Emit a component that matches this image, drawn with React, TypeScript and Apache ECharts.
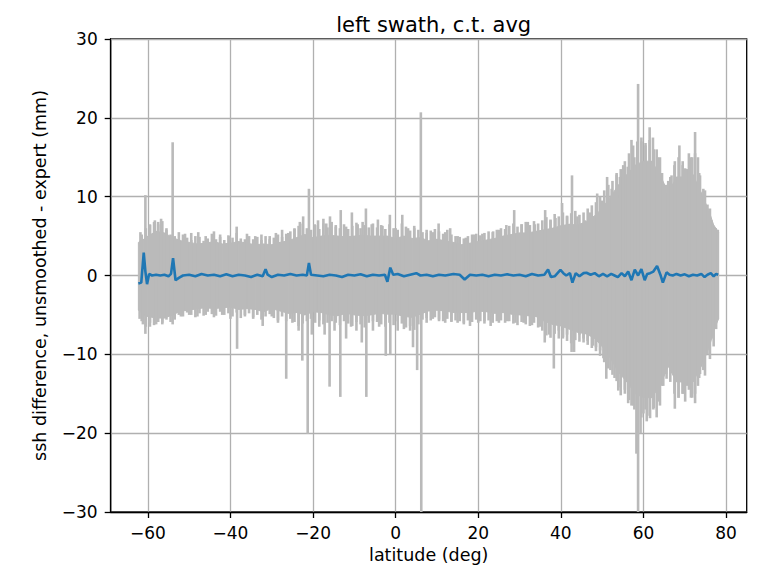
import { useEffect, useRef } from "react";
import * as echarts from "echarts";

// ---- data ----
const titleText = "left swath, c.t. avg";
const xName = "latitude (deg)";
const yName = "ssh difference, unsmoothed - expert (mm)";
const xTicks = [-60, -40, -20, 0, 20, 40, 60, 80];

// solid part of the grey (per-sample) band
const envLat = [
  -62.3, -61, -60, -58, -56, -54, -52, -50, -48, -46,
  -44, -42, -40, -38, -36, -34, -32, -30, -28, -26,
  -24, -22, -20, -18, -16, -14, -12, -10, -8, -6,
  -4, -2, 0, 2, 4, 6, 8, 10, 12, 14,
  16, 18, 20, 22, 24, 26, 28, 30, 32, 34,
  36, 38, 40, 42, 44, 46, 48, 50, 52, 54,
  56, 58, 60, 62, 64, 66, 68, 70, 72, 74,
  76, 77, 78.2,
];
const envHi = [
  4.2, 4.6, 5.0, 5.6, 5.4, 4.8, 4.4, 4.2, 4.0, 4.1,
  4.3, 4.0, 4.1, 4.3, 4.1, 3.9, 4.0, 3.9, 4.2, 4.4,
  4.8, 5.2, 4.8, 5.0, 5.1, 5.0, 4.9, 5.0, 5.1, 5.0,
  5.0, 5.0, 4.7, 5.0, 4.7, 4.8, 4.4, 4.6, 4.4, 4.2,
  3.9, 4.1, 4.3, 4.5, 4.7, 5.0, 5.2, 5.4, 5.4, 5.6,
  5.8, 6.0, 6.3, 6.5, 6.4, 6.8, 7.5, 8.5, 10.0, 11.5,
  12.8, 14.0, 14.5, 14.5, 12.8, 10.5, 12.5, 12.5, 12.8, 10.5,
  8.0, 6.4, 5.5,
];
const envLo = [
  -4.4, -5.0, -5.2, -5.4, -5.4, -5.0, -4.5, -4.4, -4.2, -4.1,
  -4.2, -4.1, -4.0, -4.3, -4.2, -4.3, -4.6, -4.2, -4.5, -4.8,
  -4.7, -5.0, -4.6, -4.7, -5.0, -5.1, -4.8, -5.0, -5.1, -5.0,
  -4.8, -4.9, -4.9, -5.2, -5.3, -4.9, -4.5, -4.4, -4.5, -4.7,
  -4.7, -4.7, -4.5, -4.6, -4.8, -4.7, -4.9, -5.0, -5.1, -5.2,
  -5.8, -6.2, -6.4, -6.8, -7.2, -7.4, -7.9, -9.0, -10.5, -12.3,
  -13.5, -15.0, -15.5, -15.5, -14.0, -11.5, -13.5, -13.5, -13.5, -11.5,
  -9.0, -7.0, -5.5,
];

// noisy fringe of the grey band (one stroke per degree, lo..hi)
const fringeLat = [
  -61.5, -60.5, -59.5, -58.5, -57.5, -56.5, -55.5,
  -54.5, -53.5, -52.5, -51.5, -50.5, -49.5, -48.5, -47.5, -46.5, -45.5,
  -44.5, -43.5, -42.5, -41.5, -40.5, -39.5, -38.5, -37.5, -36.5, -35.5,
  -34.5, -33.5, -32.5, -31.5, -30.5, -29.5, -28.5, -27.5, -26.5, -25.5,
  -24.5, -23.5, -22.5, -21.5, -20.5, -19.5, -18.5, -17.5, -16.5, -15.5,
  -14.5, -13.5, -12.5, -11.5, -10.5, -9.5, -8.5, -7.5, -6.5, -5.5,
  -4.5, -3.5, -2.5, -1.5, -0.5, 0.5, 1.5, 2.5, 3.5, 4.5,
  5.5, 6.5, 7.5, 8.5, 9.5, 10.5, 11.5, 12.5, 13.5, 14.5,
  15.5, 16.5, 17.5, 18.5, 19.5, 20.5, 21.5, 22.5, 23.5, 24.5,
  25.5, 26.5, 27.5, 28.5, 29.5, 30.5, 31.5, 32.5, 33.5, 34.5,
  35.5, 36.5, 37.5, 38.5, 39.5, 40.5, 41.5, 42.5, 43.5, 44.5,
  45.5, 46.5, 47.5, 48.5, 49.5, 50.5, 51.5, 52.5, 53.5, 54.5,
  55.5, 56.5, 57.5, 58.5, 59.5, 60.5, 61.5, 62.5, 63.5, 64.5,
  65.5, 66.5, 67.5, 68.5, 69.5, 70.5, 71.5, 72.5, 73.5, 74.5,
  75.5, 76.5, 77.5,
];
const fringeHi = [
  5.2, 6.0, 6.4, 6.8, 6.5, 6.9, 5.8,
  5.2, 5.0, 4.6, 5.2, 4.8, 4.5, 5.0, 4.9, 4.4, 4.7,
  5.3, 4.6, 4.9, 4.5, 5.1, 4.8, 5.4, 4.7, 4.6, 5.0,
  4.6, 4.9, 4.5, 5.0, 4.6, 4.8, 5.2, 4.9, 5.3, 5.6,
  5.9, 6.3, 6.6, 6.0, 5.8, 6.4, 5.9, 6.6, 6.1, 6.8,
  6.2, 6.0, 6.5, 5.9, 6.3, 6.7, 6.0, 6.4, 6.1, 6.6,
  6.1, 6.4, 5.9, 6.5, 6.0, 5.8, 6.6, 6.2, 5.7, 6.0,
  5.8, 5.5, 5.4, 5.7, 5.9, 5.6, 5.3, 5.8, 5.2, 5.0,
  4.9, 4.7, 5.0, 5.2, 5.3, 5.1, 5.4, 5.6, 5.5, 5.8,
  6.0, 5.9, 6.3, 6.6, 6.2, 6.5, 6.8, 6.4, 6.9, 6.6,
  7.0, 7.4, 7.1, 7.8, 7.5, 8.0, 7.6, 7.9, 8.2, 7.7,
  8.0, 8.5, 8.9, 9.3, 10.0, 10.8, 11.5, 12.0, 12.8, 13.5,
  14.5, 15.5, 16.5, 17.0, 17.5, 16.8, 17.2, 16.0, 15.0, 13.0,
  11.5, 12.5, 14.0, 15.0, 14.0, 13.5, 15.0, 15.5, 13.0, 11.0,
  9.0, 7.0, 6.0,
];
const fringeLo = [
  -5.8, -6.5, -6.0, -6.3, -5.9, -6.2, -5.6,
  -5.9, -5.6, -5.0, -5.2, -4.7, -5.0, -5.3, -4.8, -5.1, -4.6,
  -4.9, -5.1, -4.6, -5.0, -4.8, -5.2, -4.7, -5.4, -5.0, -4.8,
  -5.3, -5.0, -5.6, -5.2, -4.9, -5.4, -5.7, -5.2, -5.8, -5.5,
  -5.9, -6.4, -6.1, -5.8, -5.5, -6.0, -5.7, -6.2, -6.0, -5.8,
  -6.0, -6.3, -5.8, -6.1, -6.4, -5.9, -6.2, -6.6, -6.0, -5.8,
  -5.9, -6.2, -6.5, -6.0, -6.3, -5.8, -6.1, -6.6, -6.4, -6.9,
  -6.2, -5.6, -5.4, -5.7, -5.3, -5.6, -5.8, -5.5, -5.9, -5.7,
  -5.8, -6.0, -5.7, -5.9, -5.6, -5.8, -6.1, -5.7, -6.0, -5.8,
  -5.7, -6.0, -5.8, -6.1, -6.3, -5.9, -6.2, -6.4, -6.0, -6.6,
  -7.0, -7.6, -7.9, -7.4, -8.0, -7.8, -8.3, -8.6, -8.2, -8.4,
  -8.5, -8.8, -9.2, -9.6, -10.2, -11.0, -11.8, -12.6, -13.4, -14.2,
  -15.0, -15.8, -16.5, -17.5, -18.0, -17.0, -17.8, -16.8, -16.0, -14.0,
  -12.5, -13.5, -15.0, -15.5, -15.0, -14.0, -15.5, -15.0, -13.0, -12.0,
  -10.0, -8.0, -6.5,
];

// isolated excursions of the grey line (drawn from 0 to the value)
const spikeLat = [
  // upward
  -61.8, -60.6, -59.5, -58.3, -57.5, -56.8, -55.5, -54.0, -52.5, -51.0,
  -49.5, -47.8, -46.0, -44.0, -42.5, -40.2, -38.5, -36.0, -34.0, -32.5,
  -30.5, -29.0, -27.5, -26.0, -24.5, -23.2, -22.4, -21.0, -19.6, -18.8,
  -17.5, -16.8, -15.9, -14.5, -13.3, -12.0, -10.6, -9.2, -8.0, -7.2,
  -5.8, -4.3, -3.2, -1.4, 0.0, 1.6, 3.0, 4.5, 6.1, 7.5,
  9.0, 10.4, 12.0, 13.2, 15.0, 17.0, 19.0, 21.0, 23.6, 25.0,
  26.8, 28.7, 30.5, 32.0, 33.7, 36.2, 37.5, 38.7, 40.3, 41.5,
  42.7, 44.0, 45.8, 47.0, 48.8, 50.0, 51.2, 52.3, 53.5, 54.3,
  55.1, 56.2, 57.1, 57.8, 58.7, 59.5, 60.5, 61.5, 62.3, 63.2,
  64.0, 65.2, 66.0, 66.8, 67.6, 68.7, 69.5, 70.1, 71.0, 71.8,
  72.5, 73.2, 73.7, 74.9, 76.1, 77.3, 78.0,
  // downward
  -62.0, -61.2, -60.6, -59.5, -58.0, -56.5, -54.0, -52.0, -50.0, -48.0,
  -46.0, -44.0, -42.0, -40.0, -38.4, -36.5, -34.5, -32.2, -30.0, -28.5,
  -26.5, -25.0, -23.5, -22.6, -21.3, -20.3, -18.5, -17.2, -16.0, -14.8,
  -13.4, -12.0, -10.8, -9.5, -8.2, -7.1, -5.5, -4.0, -2.4, -1.3,
  0.5, 2.0, 3.5, 4.2, 5.2, 6.2, 7.5, 9.0, 10.5, 12.0,
  13.5, 15.0, 16.5, 18.0, 20.0, 21.5, 23.0, 25.0, 27.0, 29.0,
  31.0, 33.0, 35.0, 36.1, 37.2, 38.3, 39.5, 40.5, 41.5, 42.6,
  43.2, 44.5, 45.5, 46.5, 47.8, 48.5, 49.5, 50.3, 51.0, 52.0,
  53.0, 53.9, 54.5, 55.5, 56.3, 57.1, 57.8, 58.3, 58.7, 59.3,
  60.0, 60.8, 61.6, 62.4, 63.2, 64.0, 64.8, 65.6, 66.5, 67.6,
  68.5, 69.5, 70.1, 71.0, 71.8, 72.5, 73.2, 73.7, 74.9, 76.1,
  77.0, 77.6, 78.0,
];
const spikeVal = [
  // upward
  5.5, 10.2, 6.5, 7.0, 6.8, 7.2, 6.0, 16.9, 5.5, 5.3,
  5.4, 5.5, 5.0, 5.6, 5.2, 5.0, 6.2, 5.3, 5.0, 5.2,
  5.0, 5.4, 5.8, 5.4, 6.0, 6.8, 7.5, 11.0, 6.5, 7.0,
  7.2, 6.6, 7.5, 6.4, 8.3, 6.2, 8.0, 6.5, 6.8, 8.5,
  6.5, 7.1, 6.3, 7.7, 6.0, 7.7, 6.0, 6.3, 20.7, 5.8,
  5.5, 6.6, 5.5, 6.0, 5.0, 4.8, 5.2, 5.3, 5.6, 5.8,
  6.4, 8.3, 6.5, 6.8, 6.5, 8.3, 7.0, 7.3, 9.2, 7.5,
  12.7, 7.5, 7.0, 8.0, 10.4, 9.5, 12.5, 11.0, 13.0, 12.5,
  14.0, 13.8, 17.2, 15.0, 24.3, 17.0, 16.5, 18.8, 17.5, 16.0,
  15.0, 10.5, 12.0, 12.7, 14.5, 16.5, 14.5, 13.6, 15.5, 15.0,
  18.2, 15.0, 12.7, 10.8, 8.5, 6.0, 5.8,
  // downward
  -5.5, -6.2, -7.4, -6.5, -6.2, -6.0, -6.2, -5.2, -5.0, -5.2,
  -5.0, -5.3, -5.0, -5.5, -9.3, -5.2, -5.5, -6.4, -5.2, -6.0,
  -13.1, -6.0, -7.0, -10.8, -20.1, -7.5, -6.5, -7.5, -14.1, -7.0,
  -15.4, -8.0, -6.5, -7.0, -8.5, -15.4, -7.0, -6.5, -10.2, -10.0,
  -7.0, -6.8, -7.0, -9.1, -12.0, -30.0, -6.0, -5.5, -5.8, -6.0,
  -5.8, -6.0, -6.2, -6.4, -6.0, -5.8, -6.4, -6.0, -5.8, -6.0,
  -6.0, -6.3, -6.5, -8.5, -7.5, -11.8, -7.0, -8.0, -7.5, -9.7,
  -9.7, -7.5, -8.0, -8.3, -8.9, -9.1, -9.5, -10.5, -13.1, -12.0,
  -13.0, -14.6, -15.2, -14.5, -16.2, -16.5, -17.0, -22.6, -30.0, -20.0,
  -17.5, -18.5, -18.1, -17.0, -18.0, -16.5, -14.0, -13.1, -12.0, -16.9,
  -15.5, -15.0, -16.0, -14.5, -15.5, -16.2, -14.0, -12.5, -12.7, -10.6,
  -9.0, -6.8, -5.5,
];

// blue line: cross-track average
const meanLat = [
  -62.3, -61.6, -61.0, -60.6, -60.2, -59.7, -59.0, -58.0, -57.0, -56.0,
  -55.0, -54.4, -53.9, -53.3, -52.5, -51.5, -50.0, -48.5, -47.0, -45.5,
  -44.0, -42.5, -41.0, -39.5, -38.0, -36.5, -35.0, -33.5, -32.2, -31.5,
  -31.0, -30.0, -28.5, -27.0, -25.5, -24.0, -22.5, -21.5, -21.0, -20.5,
  -19.0, -17.5, -16.0, -14.5, -13.0, -11.5, -10.0, -8.5, -7.0, -5.5,
  -4.0, -2.6, -2.0, -1.3, -0.6, 0.5, 2.0, 3.5, 5.0, 6.0,
  7.5, 9.0, 10.5, 12.0, 14.0, 15.5, 16.7, 18.0, 19.5, 21.0,
  22.5, 24.0, 25.5, 27.0, 28.5, 30.0, 31.5, 33.0, 34.5, 36.0,
  36.9, 37.6, 38.5, 39.9, 40.6, 41.3, 42.2, 42.8, 43.6, 44.5,
  45.5, 46.2, 47.2, 48.2, 49.2, 50.2, 51.2, 52.2, 53.0, 53.8,
  54.7, 55.5, 56.3, 57.1, 57.9, 58.7, 59.5, 60.3, 60.9, 61.6,
  62.4, 63.3, 64.1, 64.7, 65.6, 66.3, 67.1, 68.0, 69.0, 70.0,
  71.0, 72.0, 73.0, 74.0, 74.8, 75.5, 76.3, 77.0, 77.6, 78.1,
];
const meanVal = [
  -1.0, -0.9, 2.9, 0.5, -1.1, 0.2, 0.0, 0.1, 0.0, 0.1,
  -0.1, 0.2, 2.2, -0.6, -0.3, 0.0, 0.1, -0.1, 0.2, 0.0,
  0.1, -0.1, 0.15, -0.1, 0.1, 0.0, -0.2, 0.1, -0.1, 0.8,
  0.1, -0.2, 0.1, 0.0, 0.2, 0.0, 0.1, 0.0, 1.6, 0.1,
  0.0, -0.1, 0.1, 0.0, -0.2, 0.1, 0.0, 0.15, -0.1, 0.1,
  0.0, 0.1, -0.8, 1.0, 0.1, 0.2, -0.1, 0.1, 0.3, 0.0,
  0.1, -0.1, 0.1, 0.0, 0.2, 0.1, -0.5, 0.1, 0.0, 0.1,
  -0.1, 0.1, 0.0, 0.15, 0.0, 0.1, -0.1, 0.2, 0.0, 0.1,
  0.75, -0.2, -0.1, 0.7, 0.3, 0.0, 0.3, -0.9, 0.3, -0.1,
  0.3, 0.35, 0.1, 0.3, -0.1, 0.2, -0.1, 0.2, 0.0, -0.2,
  0.3, -0.1, 0.5, -0.6, 0.75, 0.0, 0.8, -0.6, 0.2, 0.3,
  0.5, 1.2, 0.1, -0.9, 0.4, 0.1, 0.0, 0.2, 0.0, 0.15,
  -0.1, 0.1, 0.0, 0.2, -0.2, 0.1, 0.3, -0.1, 0.2, 0.1,
];

const GRAY = "#bababa";
const BLUE = "#1f77b4";
const FONT = "DejaVu Sans";
const fmt = (v: number) => (v < 0 ? "\u2212" + Math.abs(v) : String(v));

export default function App() {
  const ref = useRef<HTMLDivElement>(null);

  useEffect(() => {
    if (!ref.current) return;
    const chart = echarts.init(ref.current, null, { renderer: "svg" });

    const envData = envLat.map((x, i) => [x, envHi[i], envLo[i]]);
    const fringeData = fringeLat.map((x, i) => [x, fringeHi[i], fringeLo[i]]);
    const spikeData = spikeLat.map((x, i) => [x, spikeVal[i]]);
    const meanData = meanLat.map((x, i) => [x, meanVal[i]]);

    chart.setOption({
      animation: false,
      backgroundColor: "#fff",
      title: {
        text: titleText,
        left: 428.7,
        textAlign: "center",
        top: 9,
        textStyle: { fontFamily: FONT, fontSize: 21, fontWeight: "normal", color: "#000" },
      },
      grid: {
        left: 110.7,
        right: 22.3,
        top: 39,
        bottom: 54.8,
        show: true,
        borderColor: "#000",
        borderWidth: 1.3,
        backgroundColor: "transparent",
      },
      xAxis: {
        type: "value",
        min: -69,
        max: 85,
        name: xName,
        nameLocation: "middle",
        nameGap: 34,
        nameTextStyle: { fontFamily: FONT, fontSize: 17.5, color: "#000" },
        axisLine: { show: true, onZero: false, lineStyle: { color: "#000", width: 1.3 } },
        axisTick: { show: true, customValues: xTicks, length: 6, lineStyle: { color: "#000", width: 1.3 } },
        axisLabel: {
          customValues: xTicks,
          formatter: fmt,
          margin: 12,
          fontFamily: FONT,
          fontSize: 17,
          color: "#000",
        },
        splitLine: { show: true, lineStyle: { color: "#b0b0b0", width: 1.3 } },
      },
      yAxis: {
        type: "value",
        min: -30,
        max: 30,
        interval: 10,
        name: yName,
        nameLocation: "middle",
        nameRotate: 90,
        nameGap: 62,
        nameTextStyle: { fontFamily: FONT, fontSize: 17.5, color: "#000" },
        axisLine: { show: true, onZero: false, lineStyle: { color: "#000", width: 1.3 } },
        axisTick: { show: true, length: 6, lineStyle: { color: "#000", width: 1.3 } },
        axisLabel: { formatter: fmt, margin: 13, fontFamily: FONT, fontSize: 17, color: "#000" },
        splitLine: { show: true, lineStyle: { color: "#b0b0b0", width: 1.3 } },
      },
      series: [
        {
          type: "custom",
          name: "band",
          clip: true,
          silent: true,
          encode: { x: 0, y: [1, 2] },
          data: envData,
          renderItem: (params: any, api: any) => {
            const i = params.dataIndex;
            if (i >= envData.length - 1) return null;
            const n = envData[i + 1];
            const p1 = api.coord([api.value(0), api.value(1)]);
            const p2 = api.coord([n[0], n[1]]);
            const p3 = api.coord([n[0], n[2]]);
            const p4 = api.coord([api.value(0), api.value(2)]);
            return {
              type: "polygon",
              shape: { points: [p1, p2, p3, p4] },
              style: { fill: GRAY, stroke: GRAY, lineWidth: 1 },
            };
          },
        },
        {
          type: "custom",
          name: "fringe",
          clip: true,
          silent: true,
          encode: { x: 0, y: [1, 2] },
          data: fringeData,
          renderItem: (_params: any, api: any) => {
            const a = api.coord([api.value(0), api.value(1)]);
            const b = api.coord([api.value(0), api.value(2)]);
            return {
              type: "line",
              shape: { x1: a[0], y1: a[1], x2: b[0], y2: b[1] },
              style: { stroke: GRAY, lineWidth: 2.6 },
            };
          },
        },
        {
          type: "custom",
          name: "spikes",
          clip: true,
          silent: true,
          encode: { x: 0, y: 1 },
          data: spikeData,
          renderItem: (_params: any, api: any) => {
            const a = api.coord([api.value(0), 0]);
            const b = api.coord([api.value(0), api.value(1)]);
            return {
              type: "line",
              shape: { x1: a[0], y1: a[1], x2: b[0], y2: b[1] },
              style: { stroke: GRAY, lineWidth: 2.6 },
            };
          },
        },
        {
          type: "line",
          name: "mean",
          data: meanData,
          showSymbol: false,
          symbol: "none",
          lineStyle: { color: BLUE, width: 2.6 },
          z: 5,
        },
      ],
    });

    return () => chart.dispose();
  }, []);

  return (
    <div
      ref={ref}
      style={{ position: "fixed", left: 0, top: 0, width: 769, height: 569, background: "#fff" }}
    />
  );
}
